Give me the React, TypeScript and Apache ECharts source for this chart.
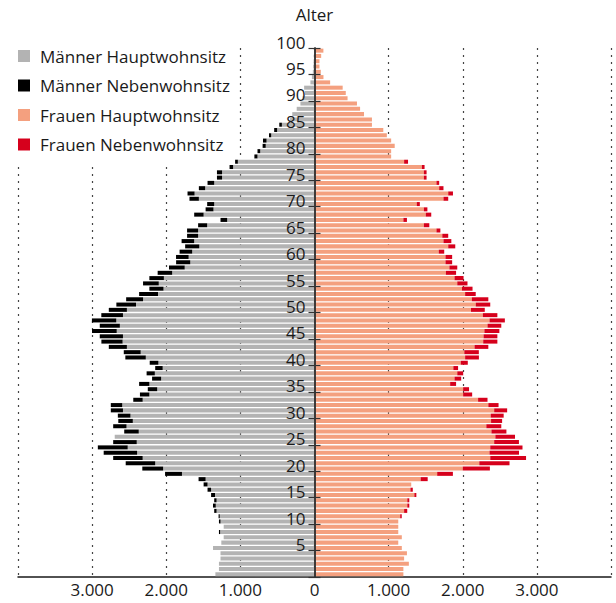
import React, { useEffect, useRef } from "react";
import * as echarts from "echarts";

// Age categories 0..99 (each band = one year; tick labels sit on band boundaries 0..100)
const ages: string[] = Array.from({ length: 100 }, (_, i) => String(i));

// Values (persons), index = age
const maleMain = [
  1337, 1289, 1289, 1268, 1268, 1369, 1257, 1225, 1273, 1225,
  1268, 1278, 1321, 1332, 1321, 1342, 1395, 1443, 1469, 1788,
  2042, 2149, 2318, 2393, 2520, 2398, 2695, 2371, 2536, 2451,
  2483, 2584, 2594, 2318, 2228, 2122, 2228, 2069, 2154, 2048,
  2106, 2276, 2345, 2531, 2589, 2584, 2668, 2626, 2674, 2584,
  2531, 2408, 2313, 2111, 2037, 2101, 2032, 1920, 1751, 1676,
  1698, 1650, 1554, 1623, 1570, 1570, 1448, 1178, 1496, 1363,
  1353, 1560, 1618, 1475, 1353, 1247, 1247, 1098, 1034, 769,
  732, 658, 647, 584, 504, 440, 330, 300, 240, 190,
  160, 130, 140, 55, 35, 22, 18, 12, 8, 5,
];
const maleSecond = [
  0, 0, 0, 0, 0, 0, 0, 0, 16, 0,
  21, 16, 32, 37, 32, 53, 48, 53, 95, 228,
  281, 398, 398, 451, 403, 318, 0, 196, 180, 196,
  170, 164, 154, 127, 127, 127, 138, 122, 111, 101,
  117, 276, 228, 244, 286, 313, 334, 271, 329, 292,
  244, 265, 228, 255, 191, 212, 196, 196, 212, 191,
  170, 170, 191, 170, 149, 149, 122, 90, 127, 106,
  95, 127, 95, 85, 90, 69, 69, 48, 37, 42,
  37, 42, 48, 30, 40, 35, 0, 0, 0, 0,
  0, 0, 0, 0, 0, 0, 0, 0, 0, 0,
];
const femaleMain = [
  1199, 1199, 1273, 1209, 1247, 1178, 1130, 1178, 1130, 1130,
  1130, 1156, 1209, 1252, 1252, 1347, 1294, 1305, 1432, 1655,
  2000, 2223, 2371, 2361, 2371, 2424, 2440, 2387, 2318, 2382,
  2377, 2424, 2345, 2207, 2005, 2005, 1830, 1889, 1926, 1873,
  1973, 2032, 2021, 2159, 2276, 2281, 2292, 2334, 2361, 2271,
  2111, 2175, 2122, 2032, 1989, 1926, 1889, 1772, 1820, 1767,
  1767, 1676, 1804, 1740, 1724, 1645, 1475, 1199, 1501, 1475,
  1379, 1740, 1804, 1682, 1645, 1475, 1475, 1448, 1209, 1034,
  1034, 1082, 1034, 976, 928, 775, 775, 668, 615, 573,
  446, 422, 380, 211, 121, 85, 67, 67, 90, 120,
];
const femaleSecond = [
  0, 0, 0, 0, 0, 0, 0, 0, 0, 0,
  0, 21, 42, 27, 27, 27, 32, 0, 95, 212,
  366, 408, 483, 398, 435, 334, 265, 202, 202, 149,
  175, 175, 138, 127, 122, 80, 80, 90, 80, 64,
  95, 186, 196, 186, 191, 186, 202, 186, 207, 196,
  186, 196, 223, 143, 143, 138, 122, 138, 106, 90,
  90, 74, 95, 106, 80, 53, 74, 48, 74, 48,
  42, 64, 64, 58, 37, 37, 37, 37, 53, 0,
  0, 0, 0, 0, 0, 0, 0, 0, 0, 0,
  0, 0, 0, 0, 0, 0, 0, 0, 0, 0,
];

const seriesNames = [
  "Männer Hauptwohnsitz",
  "Männer Nebenwohnsitz",
  "Frauen Hauptwohnsitz",
  "Frauen Nebenwohnsitz",
];

const GRAY = "#b3b3b3";
const BLACK = "#000000";
const SALMON = "#f4a07f";
const RED = "#d6001c";
const FONT = "Open Sans";

const GRID_LEFT = 18;
const GRID_RIGHT = 5;
const CHART_W = 616;
const CHART_H = 603;
// shift the age axis from the grid's left edge to the x = 0 position (centre)
const CENTER_OFFSET = -(CHART_W - GRID_LEFT - GRID_RIGHT) / 2;

function fmtX(v: number): string {
  const a = Math.abs(v);
  if (a >= 4000) return "";
  if (a === 0) return "0";
  return a / 1000 + ".000";
}

export default function App() {
  const ref = useRef<HTMLDivElement>(null);
  useEffect(() => {
    document.body.style.margin = "0";
    document.body.style.overflow = "hidden";
    if (!ref.current) return;
    const chart = echarts.init(ref.current, undefined, { renderer: "svg" });
    const barCommon = {
      type: "bar" as const,
      stack: "all",
      barCategoryGap: "24%",
      xAxisIndex: 0,
      yAxisIndex: 0,
      silent: true,
    };
    chart.setOption({
      animation: false,
      textStyle: { fontFamily: FONT },
      grid: {
        left: GRID_LEFT,
        right: GRID_RIGHT,
        top: 48,
        bottom: 26,
        containLabel: false,
        outerBoundsMode: "none",
      },
      legend: {
        orient: "vertical",
        left: 18,
        top: 47,
        padding: 0,
        itemWidth: 12,
        itemHeight: 12,
        itemGap: 11.5,
        icon: "rect",
        data: seriesNames,
        selectedMode: false,
        textStyle: {
          fontFamily: FONT,
          fontSize: 17,
          color: "#1a1a1a",
          lineHeight: 18,
          padding: [0, 0, 0, 5],
        },
      },
      graphic: [
        {
          type: "rect",
          z: 1,
          shape: { x: 0, y: 30, width: 232, height: 134 },
          style: { fill: "#ffffff" },
          silent: true,
        },
      ],
      xAxis: {
        type: "value",
        min: -4000,
        max: 4000,
        interval: 1000,
        axisLine: { show: true, onZero: false, lineStyle: { color: "#1a1a1a", width: 1.5 } },
        axisTick: { show: false },
        axisLabel: {
          formatter: fmtX,
          fontFamily: FONT,
          fontSize: 17,
          color: "#1a1a1a",
          margin: 4,
        },
        splitLine: {
          show: true,
          lineStyle: { color: "#444", width: 1.2, type: [2, 5] },
        },
      },
      yAxis: [
        {
          type: "category",
          data: ages,
          show: false,
          position: "left",
          axisLine: { onZero: false },
        },
        {
          type: "value",
          position: "left",
          offset: CENTER_OFFSET,
          z: 10,
          min: 0,
          max: 100,
          interval: 5,
          name: "Alter",
          nameLocation: "end",
          nameGap: 25,
          nameTextStyle: { fontFamily: FONT, fontSize: 17, color: "#1a1a1a" },
          axisLine: { show: true, onZero: false, lineStyle: { color: "#333", width: 1.5 } },
          axisTick: { show: true, length: 6, lineStyle: { color: "#333", width: 1.2 } },
          axisLabel: {
            fontFamily: FONT,
            fontSize: 17,
            color: "#1a1a1a",
            margin: 9,
            verticalAlign: "bottom",
            lineHeight: 12,
            formatter: (v: number) => (v === 0 ? "" : String(v)),
          },
          splitLine: { show: false },
        },
        {
          type: "value",
          position: "left",
          offset: CENTER_OFFSET,
          z: 10,
          min: 0,
          max: 100,
          interval: 5,
          axisLine: { show: true, onZero: false, lineStyle: { color: "#333", width: 1.5 } },
          axisTick: { show: true, inside: true, length: 6, lineStyle: { color: "#333", width: 1.2 } },
          axisLabel: { show: false },
          splitLine: { show: false },
        },
      ],
      series: [
        { ...barCommon, name: seriesNames[0], data: maleMain.map((v) => -v), itemStyle: { color: GRAY } },
        { ...barCommon, name: seriesNames[1], data: maleSecond.map((v) => -v), itemStyle: { color: BLACK } },
        { ...barCommon, name: seriesNames[2], data: femaleMain, itemStyle: { color: SALMON } },
        { ...barCommon, name: seriesNames[3], data: femaleSecond, itemStyle: { color: RED } },
      ],
    });
    return () => chart.dispose();
  }, []);
  return <div ref={ref} style={{ width: CHART_W, height: CHART_H }} />;
}
